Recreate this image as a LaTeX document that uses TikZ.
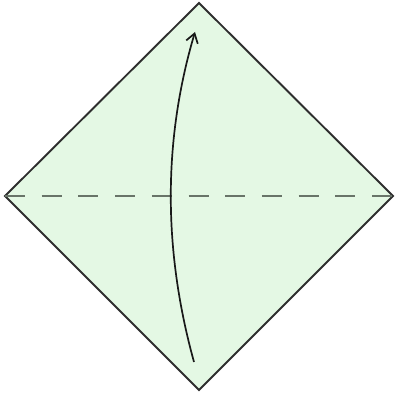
\documentclass[tikz,border=0pt]{standalone}
\usepackage{tikz}
\usetikzlibrary{arrows.meta}
\definecolor{paperfill}{HTML}{E4F8E4}
\definecolor{creaseline}{HTML}{687468}
\definecolor{edgeline}{HTML}{2E2E2E}

\begin{document}
\begin{tikzpicture}[
  x=1pt,y=-1pt,
  paper/.style={draw=edgeline,line width=1.9pt,fill=paperfill,line join=miter},
  valley/.style={draw=creaseline,line width=2.8pt,dash pattern=on 20pt off 16.7pt},
  foldarrow/.style={-{Straight Barb[length=9pt,width=12pt,line width=1.7pt]},line width=1.7pt,color=black!90}
]
\useasboundingbox (0,0) rectangle (395,396);
\coordinate (top) at (199,3);
\coordinate (left) at (5,196);
\coordinate (right) at (393,196);
\coordinate (bottom) at (199,390);
\draw[paper] (top) -- (right) -- (bottom) -- (left) -- cycle;
\draw[valley] (left) -- (right);
% fold bottom corner up to top corner
\coordinate (from) at (194,362);
\coordinate (to) at (195,32);
\draw[foldarrow] (from) .. controls (163,250) and (163,140) .. (to);
\end{tikzpicture}
\end{document}
